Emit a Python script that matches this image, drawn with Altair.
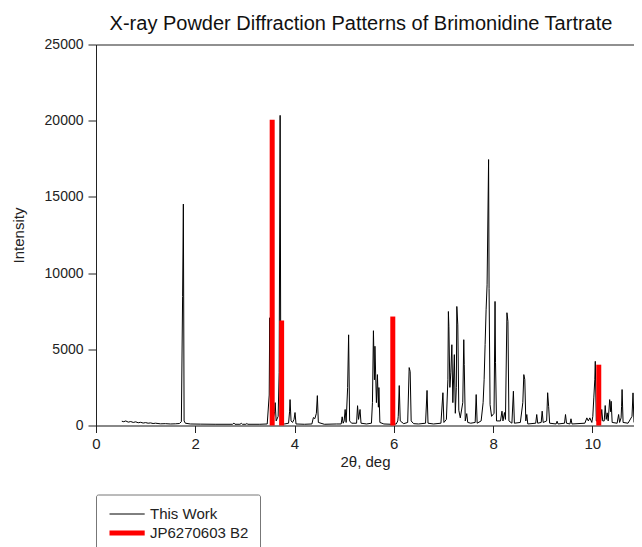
import altair as alt
import pandas as pd

# ---- data ----
two_theta = [
    0.52, 0.56, 0.60, 0.65, 0.70, 0.75, 0.80, 0.85, 0.90, 0.95, 1.00, 1.05, 1.10, 1.15, 1.20,
    1.30, 1.40, 1.50, 1.60, 1.68, 1.72, 1.745, 1.76, 1.775, 1.80, 1.90, 2.10, 2.40,
    2.75, 2.78, 2.80, 2.90, 2.93, 2.95, 3.02, 3.04, 3.06, 3.30, 3.45,
    3.49, 3.50, 3.52, 3.56, 3.60, 3.61, 3.63, 3.67, 3.69, 3.71, 3.725, 3.75, 3.80,
    3.88, 3.90, 3.91, 3.93, 3.96, 3.99, 4.01, 4.03, 4.20, 4.35, 4.38, 4.41, 4.44, 4.46, 4.48,
    4.60, 4.85, 4.94, 4.96, 4.98, 5.00, 5.02, 5.04, 5.07, 5.09, 5.11, 5.15, 5.25, 5.27, 5.29,
    5.32, 5.34, 5.45, 5.55, 5.57, 5.59, 5.61, 5.62, 5.65, 5.67, 5.69, 5.70, 5.72, 5.80, 5.95,
    6.05, 6.08, 6.09, 6.11, 6.13, 6.20, 6.28, 6.31, 6.33, 6.35, 6.40, 6.50, 6.64, 6.67, 6.69,
    6.80, 6.95, 6.99, 7.01, 7.06, 7.09, 7.10, 7.11, 7.13, 7.15, 7.17, 7.19, 7.22, 7.24, 7.26,
    7.27, 7.29, 7.31, 7.34, 7.39, 7.41, 7.42, 7.44, 7.47, 7.49, 7.55, 7.64, 7.66, 7.68, 7.76,
    7.80, 7.82, 7.84, 7.86, 7.88, 7.91, 7.92, 7.94, 7.97, 8.02, 8.04, 8.05, 8.07, 8.15, 8.18,
    8.20, 8.23, 8.25, 8.28, 8.30, 8.32, 8.38, 8.41, 8.43, 8.55, 8.60, 8.62, 8.64, 8.66, 8.68,
    8.70, 8.86, 8.88, 8.90, 8.97, 8.99, 9.01, 9.08, 9.10, 9.12, 9.14, 9.27, 9.29, 9.31, 9.44,
    9.46, 9.48, 9.55, 9.57, 9.59, 9.85, 9.89, 9.92, 9.95, 9.99, 10.01, 10.03, 10.05, 10.06,
    10.08, 10.17, 10.19, 10.21, 10.24, 10.26, 10.28, 10.30, 10.32, 10.35, 10.37, 10.38, 10.40,
    10.50, 10.53, 10.55, 10.58, 10.59, 10.60, 10.62, 10.72, 10.80, 10.82, 10.84,
]
intensity = [
    280, 250, 300, 220, 260, 200, 240, 180, 210, 160, 190, 150, 170, 130, 150,
    110, 120, 100, 110, 130, 250, 8460, 14530, 300, 150, 100, 90, 80,
    80, 160, 80, 80, 140, 80, 80, 130, 80, 80, 100,
    2000, 7070, 600, 300, 900, 1500, 300, 600, 3470, 20350, 800, 200, 100,
    150, 900, 1700, 300, 200, 400, 850, 100, 80, 100, 520, 450, 800, 1960, 200,
    80, 100, 100, 570, 150, 300, 1050, 200, 2490, 5950, 300, 150, 150, 1300, 400,
    1050, 150, 100, 150, 1500, 6220, 3000, 5200, 1500, 3340, 1200, 2490, 200, 100, 80,
    100, 300, 600, 2620, 300, 120, 200, 3800, 3540, 300, 120, 100, 150, 2300, 150,
    100, 150, 2150, 200, 400, 3000, 7480, 6500, 2500, 3500, 5300, 1500, 4650, 800, 2490,
    7810, 6600, 1000, 500, 1500, 5630, 4000, 300, 780, 200, 150, 200, 2030, 150, 300,
    1500, 3000, 5300, 7590, 9230, 17450, 9000, 1370, 600, 800, 8140, 4120, 300, 300, 940,
    300, 850, 400, 7400, 6830, 300, 150, 2250, 150, 200, 1500, 3340, 3010, 300, 720,
    100, 150, 720, 150, 200, 940, 200, 300, 2150, 1260, 150, 100, 280, 100, 150,
    720, 150, 100, 440, 100, 150, 500, 300, 500, 200, 600, 1810, 3000, 4210,
    300, 300, 1050, 300, 300, 1310, 400, 830, 300, 1700, 900, 1590, 200,
    150, 720, 200, 500, 1260, 2360, 200, 150, 600, 2140, 200,
]
ref_two_theta = [3.55, 3.74, 5.98, 10.13]
ref_intensity = [20070, 6890, 7150, 3990]
series_names = ["This Work", "JP6270603 B2"]
series_colors = ["#000000", "#ff0000"]
series_widths = [1, 5]
x_ticks = [0, 2, 4, 6, 8, 10]
y_ticks = [0, 5000, 10000, 15000, 20000, 25000]

FONT = "Liberation Sans"

trace = pd.DataFrame({"two_theta": two_theta, "intensity": intensity, "series": series_names[0]})
ref = pd.DataFrame({"two_theta": ref_two_theta, "intensity": ref_intensity, "series": series_names[1]})

x_scale = alt.Scale(domain=[0, 10.84], nice=False, zero=False)
y_scale = alt.Scale(domain=[0, 25000], nice=False)
color_scale = alt.Scale(domain=series_names, range=series_colors)
width_scale = alt.Scale(domain=series_names, range=series_widths)

x_axis = alt.Axis(
    orient="bottom", values=x_ticks, title="2θ, deg", grid=False, tickSize=7,
    labelFontSize=15, labelFont=FONT, labelColor="#222", labelPadding=4,
    titleFont=FONT, titleFontSize=15, titleFontWeight="normal", titleColor="#222",
    titleY=36, titleBaseline="middle", domainColor="#222", tickColor="#222",
    labelFlush=False,
)
x_axis_top = alt.Axis(
    orient="top", values=x_ticks, title=None, labels=False, ticks=False, grid=False,
    domainColor="#333",
)
y_axis = alt.Axis(
    values=y_ticks, title="Intensity", grid=False, tickSize=8, labelFontSize=14,
    labelFont=FONT, labelColor="#222", labelPadding=5, titleFont=FONT, titleFontSize=15,
    titleFontWeight="normal", titleColor="#222", titleX=-78, titleY=190.5,
    titleAngle=270, titleBaseline="middle", titleAlign="center",
    domainColor="#222", tickColor="#222", format="d", labelFlush=False,
)
legend = alt.Legend(
    title=None, orient="none", legendX=0, legendY=450,
    symbolType="M-1,0H3.4", symbolSize=256, labelFontSize=15, labelFont=FONT,
    labelColor="#222", padding=11, strokeColor="#777", cornerRadius=2,
    fillColor="white", rowPadding=-1, labelLimit=0, labelOffset=22,
)

line = alt.Chart(trace).mark_line(interpolate="linear").encode(
    x=alt.X("two_theta:Q", scale=x_scale, axis=x_axis),
    y=alt.Y("intensity:Q", scale=y_scale, axis=y_axis),
    stroke=alt.Stroke("series:N", scale=color_scale, legend=legend),
    strokeWidth=alt.StrokeWidth("series:N", scale=width_scale, legend=legend),
)
bars = alt.Chart(ref).mark_rule().encode(
    x=alt.X("two_theta:Q", scale=x_scale, axis=x_axis_top),
    y=alt.Y("intensity:Q", scale=y_scale, axis=y_axis),
    y2=alt.datum(0),
    stroke=alt.Stroke("series:N", scale=color_scale, legend=legend),
    strokeWidth=alt.StrokeWidth("series:N", scale=width_scale, legend=legend),
)

chart = (
    alt.layer(line, bars)
    .resolve_axis(x="independent")
    .properties(
        width=538,
        height=381,
        autosize=alt.AutoSizeParams(type="none"),
        padding={"left": 88, "top": 36.5, "right": 0, "bottom": 121.5},
        title=alt.TitleParams(
            "X-ray Powder Diffraction Patterns of Brimonidine Tartrate",
            anchor="middle", frame="group", dx=-4, offset=4, fontSize=20,
            font=FONT, fontWeight="normal", color="#111",
        ),
    )
    .configure_view(stroke=None)
    .configure(background="white")
)

chart.save("out.html", embed_options={"renderer": "svg", "actions": False})
